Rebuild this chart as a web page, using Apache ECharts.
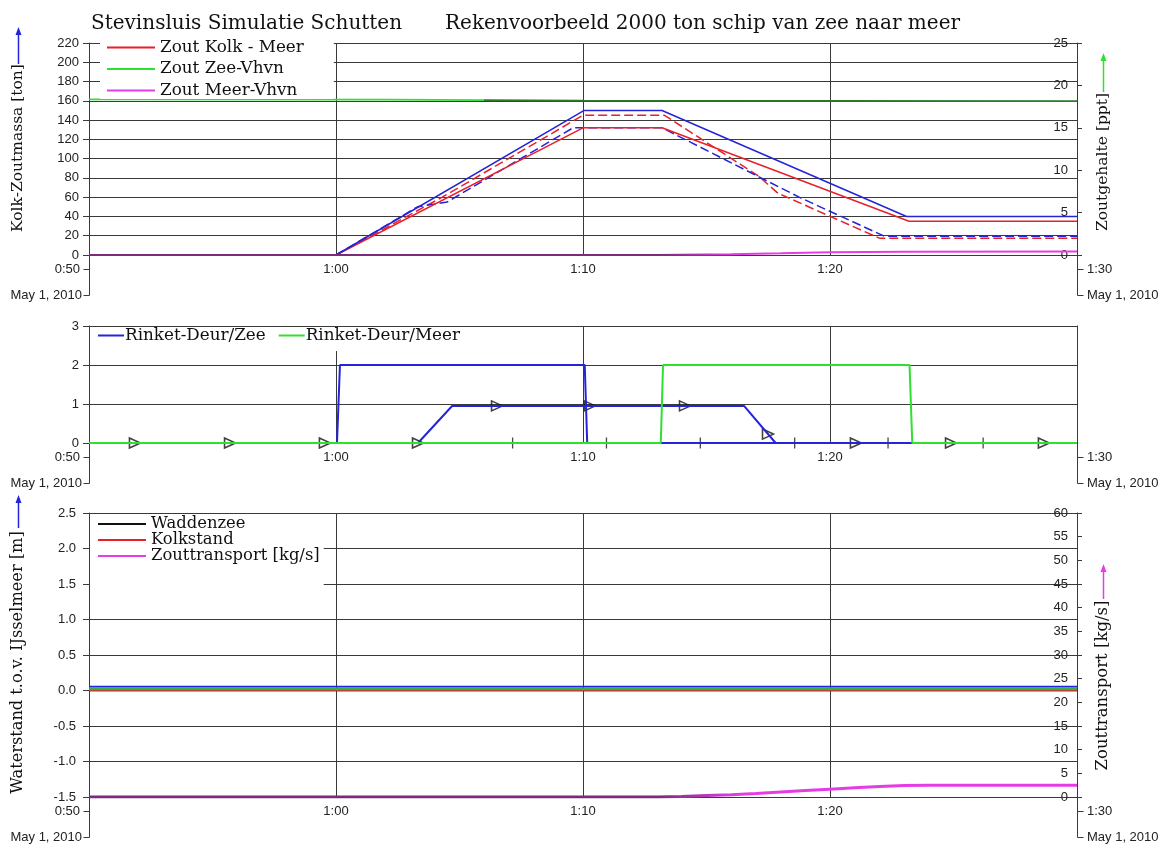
<!DOCTYPE html>
<html>
<head>
<meta charset="utf-8">
<title>Stevinsluis Simulatie Schutten</title>
<script src="https://cdn.jsdelivr.net/npm/echarts@6/dist/echarts.min.js"></script>
<style>
  html, body { margin: 0; padding: 0; background: #ffffff; }
  #chart { width: 1160px; height: 844px; }
</style>
</head>
<body>
<div id="chart"></div>
<script>
// ---- time axis (minutes after midnight) ----
const startTime = 50;
const endTime = 90;
const timeStep = 10;
const dateLabel = 'May 1, 2010';

// ---- panel 1: salt mass in the lock chamber [ton] and salinity [ppt] ----
const massTicks = { min: 0, max: 220, step: 20 };
const pptTicks = { min: 0, max: 25, step: 5 };
const zoutKolkMeer = [[50, 0], [60, 0], [70, 132], [73.2, 132], [83.2, 35], [90, 35]];
const zoutKolkBlauw = [[50, 0], [60, 0], [70.05, 150], [73.2, 150], [83.1, 40], [90, 40]];
const zoutKolkRoodStreep = [[50, 0], [60, 0], [64.3, 60], [70, 145], [73.3, 145], [77.1, 82], [77.9, 64], [82, 17.5], [90, 17.5]];
const zoutKolkBlauwStreep = [[50, 0], [60, 0], [63.3, 50], [64.5, 55], [69.6, 132], [73.2, 132], [78.75, 60], [82.2, 19.5], [90, 19.5]];
const zoutZeeVhvn = [[50, 18.35], [62, 18.33], [66, 18.26], [70, 18.2], [80, 18.17], [90, 18.15]];
const zoutMeerVhvn = [[50, 0], [73, 0], [76, 0.1], [78, 0.2], [80, 0.32], [83, 0.38], [90, 0.4]];

// ---- panel 2: door positions ----
const doorTicks = { min: 0, max: 3, step: 1 };
const deurZee = [[50, 0], [60.04, 0], [60.16, 2], [70.07, 2], [70.17, 0], [90, 0]];
const deurMeer = [[50, 0], [73.15, 0], [73.24, 2], [83.22, 2], [83.33, 0], [90, 0]];
const rinketOpening = [[50, 0], [63.32, 0], [64.7, 0.95], [76.52, 0.95], [77.8, 0], [90, 0]];
const triangleMarks = [[51.86, 0], [55.71, 0], [59.55, 0], [63.32, 0], [66.52, 0.95], [70.28, 0.95], [74.13, 0.95], [77.49, 0.23], [81.05, 0], [84.9, 0], [88.66, 0]];
const barMarks = [[67.15, 0], [70.95, 0], [74.75, 0], [78.57, 0], [82.35, 0], [86.2, 0]];

// ---- panel 3: water levels [m] and salt transport [kg/s] ----
const levelTicks = { min: -1.5, max: 2.5, step: 0.5 };
const transportTicks = { min: 0, max: 60, step: 5 };
const waddenzee = [[50, 0], [90, 0]];
const kolkstand = [[50, 0], [90, 0]];
const peilBlauw = [[50, 0.055], [90, 0.055]];
const peilGroen = [[50, 0.025], [90, 0.025]];
const zouttransport = [[50, 0], [73, 0], [74, 0.1], [75, 0.3], [76, 0.5], [77, 0.75], [78, 1.05], [79, 1.35],
  [80, 1.65], [81, 1.95], [82, 2.2], [83, 2.45], [84, 2.5], [90, 2.5]];

// ---- layout ----
const PLOT_LEFT = 89, PLOT_RIGHT = 1077, WIDTH = 1160;
const panels = [{ top: 43, bottom: 255 }, { top: 326, bottom: 443 }, { top: 513, bottom: 797 }];

const SERIF = '"DejaVu Serif", serif';
const SANS = '"Liberation Sans", Arial, sans-serif';
const GRID_COLOR = '#3a3a3a';
const TEXT_COLOR = '#222';

const RED = '#e8202a', BLUE = '#2424d8', GREEN = '#2fe02f', MAGENTA = '#e63ce6';
const DARKGREEN = '#2d7a2d', PURPLE = '#7a2c7a';

const fmtTime = v => Math.floor(v / 60) + ':' + String(Math.round(v % 60)).padStart(2, '0');

// horizontal colour change along a line spanning the full time axis
function timeGradient(t, before, after, blend) {
  const f = (t - startTime) / (endTime - startTime);
  return new echarts.graphic.LinearGradient(0, 0, 1, 0, [
    { offset: 0, color: before }, { offset: f, color: before },
    { offset: Math.min(1, f + blend), color: after }, { offset: 1, color: after }
  ]);
}

function xAxisFor(i) {
  return {
    gridIndex: i, type: 'value', min: startTime, max: endTime, interval: timeStep,
    axisLine: { show: false }, axisTick: { show: false },
    splitLine: { show: true, lineStyle: { color: GRID_COLOR, width: 1 } },
    axisLabel: {
      margin: 8, color: TEXT_COLOR, fontFamily: SANS, fontSize: 13,
      formatter: v => (v === startTime || v === endTime) ? '' : fmtTime(v)
    }
  };
}

function leftAxis(i, t, fmt, margin) {
  return {
    gridIndex: i, type: 'value', min: t.min, max: t.max, interval: t.step, position: 'left',
    axisLine: { show: true, onZero: false, lineStyle: { color: GRID_COLOR } },
    axisTick: { show: true, length: 6, lineStyle: { color: GRID_COLOR } },
    splitLine: { show: true, lineStyle: { color: GRID_COLOR, width: 1 } },
    axisLabel: { margin: margin, color: TEXT_COLOR, fontFamily: SANS, fontSize: 13, formatter: fmt }
  };
}

function rightAxis(i, t, labels) {
  return {
    gridIndex: i, type: 'value', min: t.min, max: t.max, interval: t.step, position: 'right',
    axisLine: { show: true, onZero: false, lineStyle: { color: GRID_COLOR } },
    axisTick: { show: labels, length: 5, lineStyle: { color: GRID_COLOR } },
    splitLine: { show: false },
    axisLabel: { show: labels, inside: true, margin: 9, color: TEXT_COLOR, fontFamily: SANS, fontSize: 13 }
  };
}

function line(name, data, color, xi, yi, extra) {
  return Object.assign({
    name, type: 'line', data, xAxisIndex: xi, yAxisIndex: yi, color,
    symbol: 'none', showSymbol: false, animation: false, silent: true,
    lineStyle: { color, width: 1.5 }
  }, extra || {});
}

// time-axis extensions below each panel with the start/end time and date
function timeFrame(p) {
  const g = [];
  const y0 = p.bottom, y1 = p.bottom + 14, y2 = p.bottom + 40;
  const stroke = { stroke: GRID_COLOR, lineWidth: 1 };
  const L = PLOT_LEFT + 0.5, R = PLOT_RIGHT + 0.5;
  g.push({ type: 'line', shape: { x1: L, y1: y0, x2: L, y2: y2 + 0.5 }, style: stroke, silent: true });
  g.push({ type: 'line', shape: { x1: L - 6, y1: y1 + 0.5, x2: L, y2: y1 + 0.5 }, style: stroke, silent: true });
  g.push({ type: 'line', shape: { x1: L - 6, y1: y2 + 0.5, x2: L, y2: y2 + 0.5 }, style: stroke, silent: true });
  g.push({ type: 'line', shape: { x1: R, y1: y0, x2: R, y2: y2 + 0.5 }, style: stroke, silent: true });
  g.push({ type: 'line', shape: { x1: R, y1: y1 + 0.5, x2: R + 6, y2: y1 + 0.5 }, style: stroke, silent: true });
  g.push({ type: 'line', shape: { x1: R, y1: y2 + 0.5, x2: R + 6, y2: y2 + 0.5 }, style: stroke, silent: true });
  const txt = (x, y, text, align) => ({
    type: 'text', x, y, silent: true,
    style: { text, fill: TEXT_COLOR, fontFamily: SANS, fontSize: 13, align, verticalAlign: 'middle' }
  });
  g.push(txt(PLOT_LEFT - 9, y1, fmtTime(startTime), 'right'));
  g.push(txt(PLOT_LEFT - 7, y2, dateLabel, 'right'));
  g.push(txt(PLOT_RIGHT + 10, y1, fmtTime(endTime), 'left'));
  g.push(txt(PLOT_RIGHT + 10, y2, dateLabel, 'left'));
  return g;
}

// vertical axis title with an upward arrow above it
function axisTitle(x, yTop, yBottom, arrowTip, text, color, size) {
  const cy = (yTop + yBottom) / 2;
  return [
    { type: 'text', x, y: cy, rotation: Math.PI / 2, silent: true,
      style: { text, fill: '#111', fontFamily: SERIF, fontSize: size, align: 'center', verticalAlign: 'middle' } },
    { type: 'line', silent: true, shape: { x1: x + 0.5, y1: yTop, x2: x + 0.5, y2: arrowTip + 6 },
      style: { stroke: color, lineWidth: 1.5 } },
    { type: 'polygon', silent: true, shape: { points: [[x + 0.5, arrowTip], [x - 2.5, arrowTip + 8], [x + 3.5, arrowTip + 8]] },
      style: { fill: color } }
  ];
}

const graphics = [].concat(
  timeFrame(panels[0]), timeFrame(panels[1]), timeFrame(panels[2]),
  axisTitle(18, 64, 232, 27, 'Kolk-Zoutmassa [ton]', BLUE, 15.5),
  axisTitle(1103, 92, 232, 53, 'Zoutgehalte [ppt]', GREEN, 15.5),
  axisTitle(18, 528, 797, 495, 'Waterstand t.o.v. IJsselmeer [m]', BLUE, 16.2),
  axisTitle(1103, 599, 772, 564, 'Zouttransport [kg/s]', MAGENTA, 16.5)
);

const legendText = { fontFamily: SERIF, fontSize: 16.8, color: '#111' };

const option = {
  backgroundColor: '#ffffff',
  animation: false,
  title: [
    { text: 'Stevinsluis Simulatie Schutten', left: 86, top: 9,
      textStyle: { fontFamily: SERIF, fontSize: 20, fontWeight: 'normal', color: '#111' } },
    { text: 'Rekenvoorbeeld 2000 ton schip van zee naar meer', left: 440, top: 9,
      textStyle: { fontFamily: SERIF, fontSize: 20, fontWeight: 'normal', color: '#111' } }
  ],
  grid: panels.map(p => ({ left: PLOT_LEFT, right: WIDTH - PLOT_RIGHT, top: p.top, height: p.bottom - p.top, containLabel: false })),
  xAxis: [xAxisFor(0), xAxisFor(1), xAxisFor(2)],
  yAxis: [
    leftAxis(0, massTicks, null, 10),
    rightAxis(0, pptTicks, true),
    leftAxis(1, doorTicks, null, 10),
    rightAxis(1, doorTicks, false),
    leftAxis(2, levelTicks, v => v.toFixed(1), 13),
    rightAxis(2, transportTicks, true)
  ],
  legend: [
    { data: ['Zout Kolk - Meer', { name: 'Zout Zee-Vhvn', itemStyle: { color: GREEN } },
        { name: 'Zout Meer-Vhvn', itemStyle: { color: MAGENTA } }],
      orient: 'vertical', left: 100, top: 38, padding: [1, 30, 0, 7], itemGap: 4.5, backgroundColor: '#ffffff',
      icon: 'rect', itemWidth: 48, itemHeight: 2, selectedMode: false,
      textStyle: Object.assign({ lineHeight: 16 }, legendText) },
    { data: ['Rinket-Deur/Zee', 'Rinket-Deur/Meer'], orient: 'horizontal',
      left: 96, top: 327, padding: [0, 6, 7, 2], itemGap: 13, backgroundColor: '#ffffff',
      icon: 'rect', itemWidth: 26, itemHeight: 2, selectedMode: false,
      textStyle: Object.assign({ lineHeight: 16, padding: [0, 0, 0, -4] }, legendText) },
    { data: ['Waddenzee', 'Kolkstand', { name: 'Zouttransport [kg/s]', itemStyle: { color: MAGENTA } }],
      orient: 'vertical', left: 90, top: 514, padding: [2, 4, 30, 8], itemGap: 0, backgroundColor: '#ffffff',
      icon: 'rect', itemWidth: 48, itemHeight: 2, selectedMode: false,
      textStyle: Object.assign({ lineHeight: 14 }, legendText, { fontSize: 16.4 }) }
  ],
  graphic: graphics,
  series: [
    // panel 1
    line('Zout Zee-Vhvn', zoutZeeVhvn, GREEN, 0, 1, { lineStyle: { color: timeGradient(66, GREEN, DARKGREEN, 0), width: 1.8 } }),
    line('Kolk rood gestreept', zoutKolkRoodStreep, RED, 0, 0, { lineStyle: { color: RED, width: 1.5, type: [9, 4] } }),
    line('Kolk blauw gestreept', zoutKolkBlauwStreep, BLUE, 0, 0, { lineStyle: { color: BLUE, width: 1.5, type: [9, 4] } }),
    line('Zout Kolk - Meer', zoutKolkMeer, RED, 0, 0),
    line('Kolk blauw', zoutKolkBlauw, BLUE, 0, 0),
    line('Zout Meer-Vhvn', zoutMeerVhvn, MAGENTA, 0, 1, { lineStyle: { color: timeGradient(73, PURPLE, MAGENTA, 0.08), width: 2 } }),
    // panel 2
    line('Rinket opening', rinketOpening, BLUE, 1, 2, { lineStyle: { color: BLUE, width: 2 } }),
    line('Rinket-Deur/Zee', deurZee, BLUE, 1, 2, { lineStyle: { color: BLUE, width: 2 } }),
    line('Rinket-Deur/Meer', deurMeer, GREEN, 1, 2, { lineStyle: { color: GREEN, width: 2 } }),
    { name: 'Rinket markering', type: 'scatter', xAxisIndex: 1, yAxisIndex: 2, data: barMarks,
      symbol: 'rect', symbolSize: [1.3, 11], silent: true, animation: false,
      itemStyle: { color: '#1a1a1a' } },
    { name: 'Rinket pijlen', type: 'scatter', xAxisIndex: 1, yAxisIndex: 2, data: triangleMarks,
      symbol: 'triangle', symbolRotate: -90, symbolSize: [10, 11], silent: true, animation: false,
      itemStyle: { color: 'rgba(255,255,255,0)', borderColor: '#111', borderWidth: 1.5 } },
    // panel 3
    line('Waddenzee', waddenzee, '#111111', 2, 4),
    line('Kolkstand', kolkstand, RED, 2, 4),
    line('Peil groen', peilGroen, '#2fb04a', 2, 4, { lineStyle: { color: '#2fb04a', width: 3 } }),
    line('Peil blauw', peilBlauw, BLUE, 2, 4),
    line('Zouttransport [kg/s]', zouttransport, MAGENTA, 2, 5, { lineStyle: { color: timeGradient(73, PURPLE, MAGENTA, 0.08), width: 3 } })
  ]
};

const chart = echarts.init(document.getElementById('chart'), null, { renderer: 'canvas' });
chart.setOption(option);
</script>
</body>
</html>
